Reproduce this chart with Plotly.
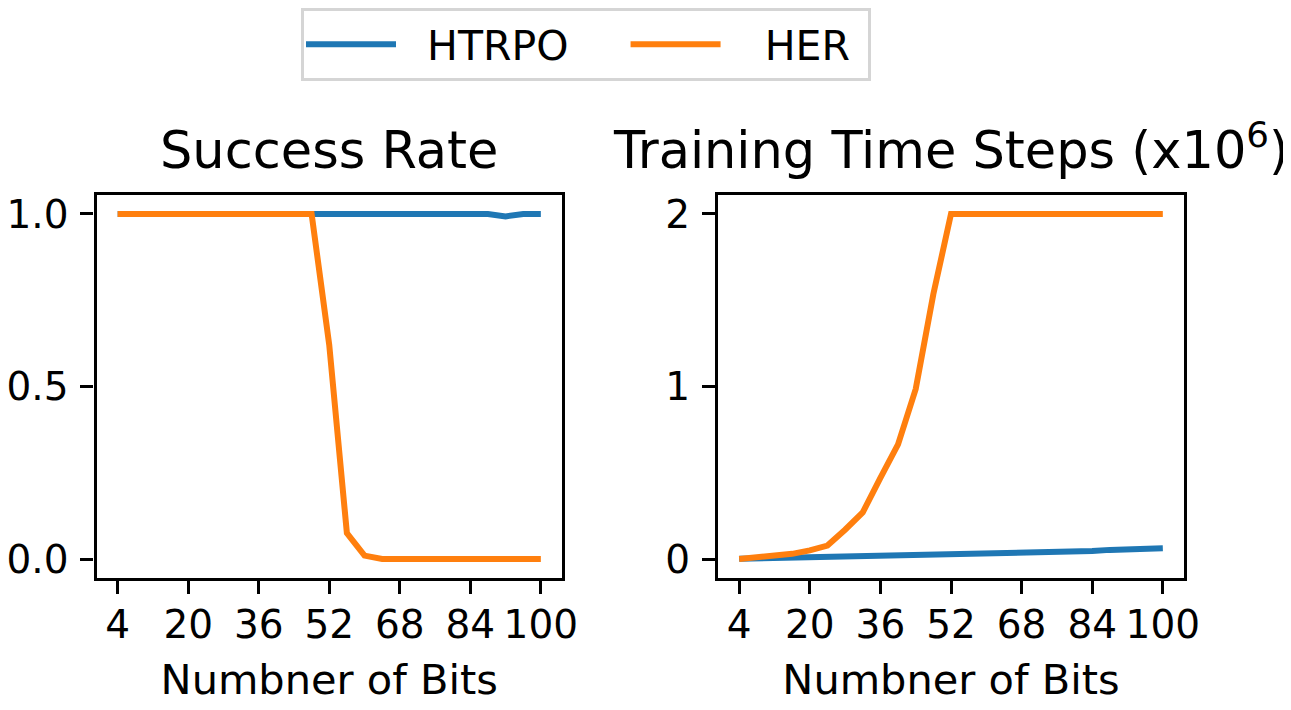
import plotly.graph_objects as go
from plotly.subplots import make_subplots

bits = [4, 8, 12, 16, 20, 24, 28, 32, 36, 40, 44, 48, 52,
        56, 60, 64, 68, 72, 76, 80, 84, 88, 92, 96, 100]

htrpo_success = [1.0, 1.0, 1.0, 1.0, 1.0, 1.0, 1.0, 1.0, 1.0, 1.0, 1.0, 1.0, 1.0,
                 1.0, 1.0, 1.0, 1.0, 1.0, 1.0, 1.0, 1.0, 1.0, 0.993, 1.0, 1.0]
her_success = [1.0, 1.0, 1.0, 1.0, 1.0, 1.0, 1.0, 1.0, 1.0, 1.0, 1.0, 1.0, 0.62,
               0.075, 0.01, 0.0, 0.0, 0.0, 0.0, 0.0, 0.0, 0.0, 0.0, 0.0, 0.0]

htrpo_steps = [0.002, 0.004, 0.006, 0.007, 0.008, 0.009, 0.010, 0.012, 0.014, 0.016,
               0.018, 0.020, 0.022, 0.024, 0.026, 0.030, 0.033, 0.036, 0.040, 0.044,
               0.046, 0.053, 0.058, 0.060, 0.062]
her_steps = [0.0, 0.008, 0.02, 0.03, 0.05, 0.078, 0.17, 0.27, 0.47, 0.665, 0.985,
             1.535, 2.0, 2.0, 2.0, 2.0, 2.0, 2.0, 2.0, 2.0, 2.0, 2.0, 2.0, 2.0, 2.0]

x_ticks = [4, 20, 36, 52, 68, 84, 100]
titles = ["Success Rate", "Training Time Steps (x10<sup>6</sup>)"]
series_names = ["HTRPO", "HER"]
NB = "\u00a0"
legend_labels = [NB * 2 + "HTRPO" + NB * 4, NB * 3 + "HER" + NB]
colors = ["#1f77b4", "#ff7f0e"]

W, H = 1291, 710
OX, OY = 8, 8  # page body margin offset
FONT = "DejaVu Sans"

fig = make_subplots(rows=1, cols=2, subplot_titles=titles)

for i, ys in enumerate([htrpo_success, her_success]):
    fig.add_trace(go.Scatter(x=bits, y=ys, mode="lines", name=legend_labels[i],
                             line=dict(color=colors[i], width=6),
                             legendgroup=series_names[i], showlegend=True), row=1, col=1)
for i, ys in enumerate([htrpo_steps, her_steps]):
    fig.add_trace(go.Scatter(x=bits, y=ys, mode="lines", name=legend_labels[i],
                             line=dict(color=colors[i], width=6),
                             legendgroup=series_names[i], showlegend=False), row=1, col=2)

ax_common = dict(showline=True, linecolor="black", linewidth=3.3, mirror=True,
                 ticks="outside", ticklen=13, tickwidth=3.3, tickcolor="black",
                 showgrid=False, zeroline=False, automargin=False,
                 tickfont=dict(family=FONT, size=39, color="black"))

def fx(px):
    return (px - OX) / W

def fy(py):
    return (H - (py - OY)) / H

left_dom = [fx(96.5), fx(562)]
right_dom = [fx(718), fx(1184)]
y_dom = [fy(578), fy(195)]

fig.update_xaxes(**ax_common, tickvals=x_ticks, range=[-0.8, 104.8], ticklabelstandoff=-3,
                 title=dict(text="Numbner of Bits", font=dict(family=FONT, size=41.5, color="black"),
                            standoff=19))
fig.update_xaxes(domain=left_dom, row=1, col=1)
fig.update_xaxes(domain=right_dom, row=1, col=2)
fig.update_yaxes(**ax_common, domain=y_dom, ticklabelstandoff=4)
fig.update_yaxes(range=[-0.055, 1.055], tickvals=[0, 0.5, 1.0], tickformat=".1f", row=1, col=1)
fig.update_yaxes(range=[-0.11, 2.11], tickvals=[0, 1, 2], tickformat="d", row=1, col=2)

for ann, dom in zip(fig.layout.annotations, [left_dom, right_dom]):
    ann.font = dict(family=FONT, size=51, color="black")
    ann.x = (dom[0] + dom[1]) / 2
    ann.y = y_dom[1]
    ann.yanchor = "bottom"
    ann.yshift = 13

fig.update_layout(
    width=W, height=H,
    margin=dict(l=0, r=0, t=0, b=0, autoexpand=False),
    paper_bgcolor="white", plot_bgcolor="white",
    font=dict(family=FONT, color="black"),
    showlegend=True,
    legend=dict(orientation="h", x=fx(301), xanchor="left", y=1, yanchor="top",
                font=dict(family=FONT, size=41, color="black"),
                bordercolor="#d5d5d5", borderwidth=3, bgcolor="white",
                itemwidth=90),
)

fig.write_html("out.html")
